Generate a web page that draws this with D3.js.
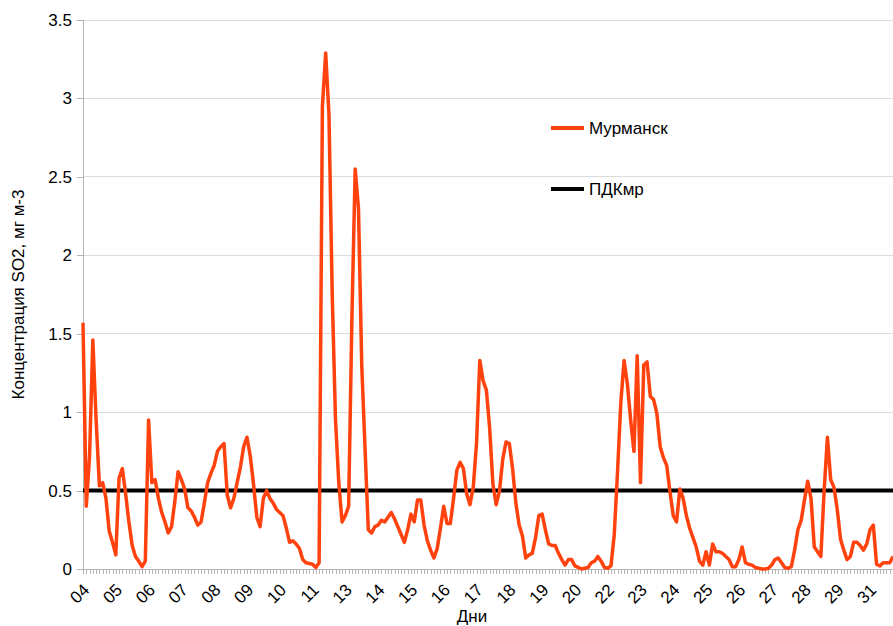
<!DOCTYPE html>
<html><head><meta charset="utf-8">
<script src="https://cdn.jsdelivr.net/npm/d3@7/dist/d3.min.js"></script>
<style>
body{margin:0;background:#fff;}
svg text{font-family:"Liberation Sans",Arial,sans-serif;fill:#000;}
</style>
</head><body>
<svg id="chart" width="893" height="626"></svg>
<script>
// ---- data ----
const dayLabels = ["04","05","06","07","08","09","10","11","13","14","15","16","17","18","19","20","22","23","24","25","26","27","28","29","31"];
const labelEvery = 10; // one day label every 10 observations
const murmansk = [
1.57,0.40,0.72,1.46,0.95,0.53,0.55,0.45,0.24,0.17,
0.09,0.58,0.64,0.48,0.30,0.15,0.08,0.05,0.015,0.05,
0.95,0.55,0.57,0.45,0.36,0.30,0.23,0.27,0.43,0.62,
0.57,0.51,0.39,0.37,0.33,0.28,0.30,0.42,0.55,0.61,
0.66,0.75,0.78,0.80,0.47,0.39,0.45,0.55,0.65,0.78,
0.84,0.72,0.54,0.33,0.27,0.45,0.50,0.45,0.42,0.38,
0.36,0.34,0.26,0.17,0.18,0.16,0.13,0.06,0.04,0.035,
0.03,0.01,0.04,2.95,3.29,2.90,1.75,0.95,0.55,0.30,
0.34,0.40,1.60,2.55,2.30,1.30,0.77,0.25,0.23,0.27,
0.28,0.31,0.30,0.33,0.36,0.32,0.27,0.22,0.17,0.25,
0.35,0.30,0.44,0.44,0.28,0.18,0.12,0.07,0.13,0.26,
0.40,0.29,0.29,0.45,0.63,0.68,0.64,0.48,0.41,0.52,
0.80,1.33,1.20,1.14,0.90,0.54,0.41,0.50,0.70,0.81,
0.80,0.64,0.42,0.28,0.21,0.07,0.09,0.10,0.20,0.34,
0.35,0.25,0.16,0.15,0.15,0.10,0.06,0.025,0.06,0.06,
0.02,0.01,0.0,0.005,0.01,0.04,0.05,0.08,0.05,0.01,
0.005,0.02,0.22,0.62,1.06,1.33,1.18,0.95,0.75,1.36,
0.55,1.30,1.32,1.10,1.08,0.99,0.78,0.71,0.66,0.49,
0.34,0.30,0.51,0.45,0.34,0.26,0.20,0.14,0.05,0.025,
0.11,0.025,0.16,0.11,0.11,0.10,0.08,0.06,0.015,0.015,
0.06,0.14,0.04,0.03,0.025,0.01,0.005,0.0,0.0,0.005,
0.025,0.06,0.07,0.04,0.01,0.005,0.015,0.12,0.25,0.31,
0.44,0.56,0.45,0.14,0.11,0.08,0.50,0.84,0.57,0.52,
0.38,0.19,0.12,0.06,0.08,0.17,0.17,0.15,0.12,0.16,
0.25,0.28,0.03,0.02,0.04,0.04,0.04,0.08
];
const pdkValue = 0.5;
const yTicks = [0,0.5,1,1.5,2,2.5,3,3.5];
const yTickLabels = ["0","0.5","1","1.5","2","2.5","3","3.5"];
const seriesNames = ["Мурманск","ПДКмр"];
const yTitle = "Концентрация SO2, мг м-3";
const xTitle = "Дни";

// ---- layout ----
const svg = d3.select("#chart");
const plotL = 83, plotR = 893, plotT = 20, plotB = 569;
const n = murmansk.length;
const x = d3.scaleLinear().domain([0, n - 1]).range([plotL, plotR]);
const y = d3.scaleLinear().domain([0, 3.5]).range([plotB, plotT]);
const red = "#ff420e";

// gridlines
svg.append("g").selectAll("line").data(yTicks.filter(d => d > 0)).join("line")
  .attr("x1", plotL).attr("x2", plotR)
  .attr("y1", d => y(d)).attr("y2", d => y(d))
  .attr("stroke", "#dcdcdc").attr("stroke-width", 1).attr("shape-rendering", "crispEdges");

// y axis
const yAxis = svg.append("g").attr("transform", `translate(${plotL},0)`)
  .call(d3.axisLeft(y).tickValues(yTicks).tickSize(6).tickPadding(5)
    .tickFormat((d, i) => yTickLabels[i]));
yAxis.attr("font-family", null).attr("font-size", null);
yAxis.select(".domain").attr("stroke", "#b3b3b3").attr("shape-rendering", "crispEdges");
yAxis.selectAll(".tick line").attr("stroke", "#b3b3b3").attr("shape-rendering", "crispEdges");
yAxis.selectAll(".tick text").style("font-size", "17px");

// x axis: a tick for every observation
const xAxis = svg.append("g").attr("transform", `translate(0,${plotB})`)
  .call(d3.axisBottom(x).tickValues(d3.range(n)).tickSize(5).tickFormat(""));
xAxis.select(".domain").attr("stroke", "#b3b3b3").attr("d", `M${plotL},0.5H${plotR}`).attr("shape-rendering", "crispEdges");
xAxis.selectAll(".tick line").attr("stroke", "#b3b3b3").attr("shape-rendering", "crispEdges");

// x labels
const labelIdx = dayLabels.map((d, i) => i * labelEvery);
const xLab = svg.append("g").attr("transform", `translate(0,${plotB})`)
  .call(d3.axisBottom(x).tickValues(labelIdx).tickSize(0)
    .tickFormat((d, i) => dayLabels[i]));
xLab.attr("font-family", null).attr("font-size", null);
xLab.select(".domain").remove();
xLab.selectAll(".tick text")
  .style("font-size", "17px")
  .attr("text-anchor", "end")
  .attr("dy", null)
  .attr("y", 0)
  .attr("transform", "translate(7,22) rotate(-45)");

// ПДК line
svg.append("line")
  .attr("x1", x(0)).attr("x2", x(n - 1))
  .attr("y1", y(pdkValue)).attr("y2", y(pdkValue))
  .attr("stroke", "#000").attr("stroke-width", 4);

// series line
svg.append("path").datum(murmansk)
  .attr("d", d3.line().x((d, i) => x(i)).y(d => y(d)))
  .attr("fill", "none").attr("stroke", red).attr("stroke-width", 3.5)
  .attr("stroke-linejoin", "round");

// axis titles
svg.append("text").attr("x", 472).attr("y", 622).attr("text-anchor", "middle")
  .style("font-size", "17px").text(xTitle);
svg.append("text").attr("transform", `translate(24,${(plotT + plotB) / 2}) rotate(-90)`)
  .attr("text-anchor", "middle").style("font-size", "17px").text(yTitle);

// legend
const legend = svg.append("g");
const legY = [128, 189];
const legColors = [red, "#000"];
seriesNames.forEach((name, i) => {
  legend.append("line").attr("x1", 551).attr("x2", 584)
    .attr("y1", legY[i]).attr("y2", legY[i])
    .attr("stroke", legColors[i]).attr("stroke-width", 4);
  legend.append("text").attr("x", 589).attr("y", legY[i] + 6)
    .style("font-size", "17px").text(name);
});
</script>
</body></html>
